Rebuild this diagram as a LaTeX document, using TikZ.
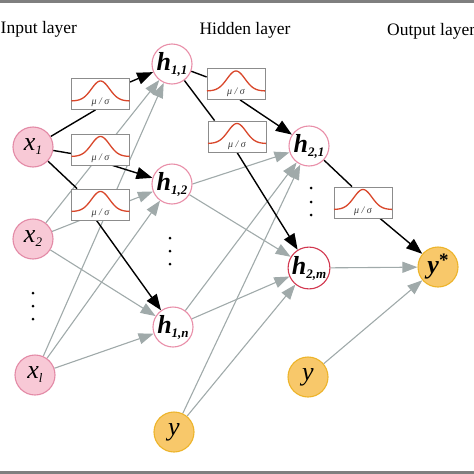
\documentclass[tikz,border=0pt]{standalone}
\usepackage{fontspec}
\setmainfont{Liberation Serif}
\usetikzlibrary{arrows.meta,calc}
\pgfdeclarelayer{edges}
\pgfsetlayers{edges,main}
\definecolor{xfill}{HTML}{F8C9D6}
\definecolor{xdraw}{HTML}{E38AA6}
\definecolor{hdraw}{HTML}{E98FA9}
\definecolor{hmdraw}{HTML}{D2374F}
\definecolor{yfill}{HTML}{F8C86A}
\definecolor{ydraw}{HTML}{EDB42A}
\definecolor{edgegray}{HTML}{A0AAAA}
\definecolor{boxgray}{HTML}{8C8C8C}
\definecolor{curvered}{HTML}{D9472B}
\definecolor{band}{HTML}{7F7F7F}
\newcommand\nl[2]{{\fontsize{26}{26}\selectfont #1}\raisebox{-4pt}{\fontsize{13}{13}\selectfont #2}}
\newcommand\gaussbox[3]{%
  \node[gbox] (#1) at (#2,#3) {};
  \draw[curvered,line width=1.3pt] plot[domain=-29:29,samples=60,smooth] ({#2+\x},{#3+7-20*exp(-(\x*\x)/162)});
  \node[font=\fontsize{10}{10}\selectfont\itshape,text=black!75,inner sep=0pt] at (#2,#3+8.5) {μ / σ};
}
\begin{document}
\begin{tikzpicture}[x=1pt,y=-1pt,
  neuron/.style={circle,inner sep=0pt,minimum size=40pt,line width=1.1pt},
  xnode/.style={neuron,fill=xfill,draw=xdraw},
  hnode/.style={neuron,fill=white,draw=hdraw},
  hmnode/.style={neuron,fill=white,draw=hmdraw},
  ynode/.style={neuron,fill=yfill,draw=ydraw},
  gbox/.style={draw=boxgray,fill=white,line width=0.8pt,minimum width=58pt,minimum height=31pt,inner sep=0pt},
  blk/.style={line width=1.4pt,black},
  blkarr/.style={blk,-{Triangle[length=16pt,width=12pt]}},
  gry/.style={line width=1.1pt,edgegray,-{Triangle[length=15pt,width=11pt]}},
  lay/.style={font=\fontsize{17.5}{17.5}\selectfont,anchor=base west,inner sep=0pt},
  dot/.style={circle,fill=black,inner sep=0pt,minimum size=3pt}
]
\useasboundingbox (0,0) rectangle (474,474);
\fill[band] (0,0) rectangle (474,2.5);
\fill[band] (0,471) rectangle (474,474);

% layer titles
\node[lay] (tin) at (0.5,33) {Input layer};
\node[lay,anchor=base] (thid) at (245,34) {Hidden layer};
\node[lay] (tout) at (387,35) {Output layer};

% neurons
\node[xnode] (x1) at (33,147) {\nl{\itshape x}{\itshape 1}};
\node[xnode] (x2) at (33,239) {\nl{\itshape x}{\itshape 2}};
\node[xnode] (xl) at (35,375) {\nl{\itshape x}{\itshape l}};
\node[hnode] (h11) at (172,64) {\nl{\bfseries\itshape h}{\bfseries\itshape 1,1}};
\node[hnode] (h12) at (172,184) {\nl{\bfseries\itshape h}{\bfseries\itshape 1,2}};
\node[hnode] (h1n) at (173,327) {\nl{\bfseries\itshape h}{\bfseries\itshape 1,n}};
\node[ynode] (yb) at (174,432) {{\fontsize{26}{26}\selectfont\itshape y}};
\node[hnode] (h21) at (309,146) {\nl{\bfseries\itshape h}{\bfseries\itshape 2,1}};
\node[hmnode] (h2m) at (309,268) {\nl{\bfseries\itshape h}{\bfseries\itshape 2,m}};
\node[ynode] (ystar) at (438,267) {{\fontsize{26}{26}\selectfont\bfseries\itshape y}\raisebox{7pt}{\fontsize{19}{19}\selectfont\bfseries *}};
\node[ynode] (yr) at (308,377) {{\fontsize{26}{26}\selectfont\itshape y}};

% vertical dots
\foreach \n/\px/\py in {a1/33/293,a2/33/306,a3/33/319,b1/170/238,b2/170/251,b3/170/264,c1/311/188,c2/311/202,c3/311/215}
  \node[dot] (d\n) at (\px,\py) {};

% gaussian weight boxes
\gaussbox{b1}{100.5}{94}
\gaussbox{b2}{100.5}{149.5}
\gaussbox{b3}{100.5}{204.5}
\gaussbox{b4}{236}{84}
\gaussbox{b5}{237}{136.5}
\gaussbox{b6}{363}{202.5}

\begin{pgfonlayer}{edges}
% gray connections
\draw[gry] (x2) -- (h11);
\draw[gry] (x2) -- (h12);
\draw[gry] (x2) -- (h1n);
\draw[gry] (xl) -- (h11);
\draw[gry] (xl) -- (h12);
\draw[gry] (xl) -- (h1n);
\draw[gry] (h12.east) -- (h21);
\draw[gry] (h12) -- (h2m);
\draw[gry] (h1n) -- (h21);
\draw[gry] (h1n) -- (h2m);
\draw[gry] (yb) -- (h21);
\draw[gry] (yb) -- (h2m);
\draw[gry] (h2m) -- (ystar);
\draw[gry] (yr) -- (ystar);
% black (bayesian) connections through the boxes
\draw[blk] (x1) -- ([xshift=-5pt]b1.south);
\draw[blkarr] ([yshift=-4pt]b1.north east) -- (h11);
\draw[blk] (x1) -- ([yshift=-4pt]b2.west);
\draw[blkarr] ([xshift=12pt]b2.south) -- (h12);
\draw[blk] (x1) -- ([xshift=6pt]b3.north west);
\draw[blkarr] ([xshift=-4pt]b3.south) -- (h1n);
\draw[blk] (h11) -- ([yshift=7pt]b4.west);
\draw[blkarr] ([xshift=4pt]b4.south) -- (h21);
\draw[blk] (h11) -- ([xshift=7pt]b5.north west);
\draw[blkarr] (b5.south) -- (h2m);
\draw[blk] (h21) -- ([xshift=-11pt]b6.north);
\draw[blkarr] ([xshift=17pt]b6.south) -- (ystar);
\end{pgfonlayer}
\end{tikzpicture}
\end{document}
